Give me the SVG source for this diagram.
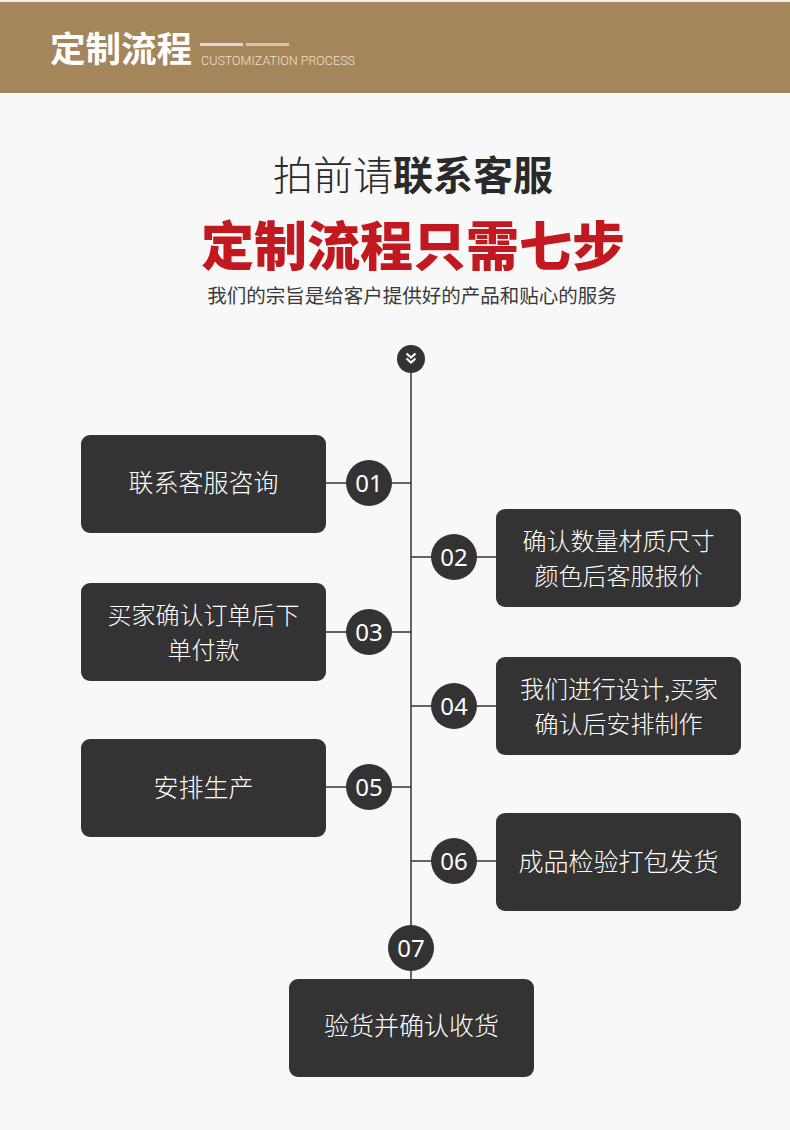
<svg xmlns="http://www.w3.org/2000/svg" width="790" height="1130" viewBox="0 0 790 1130">
<style>
.box{fill:#333333}
.circ{fill:#333333}
.conn{stroke:#333333;stroke-width:1.5;fill:none}
.bt{font-family:"Noto Sans CJK SC","Noto Sans",sans-serif;font-size:25px;font-weight:300;fill:#ffffff;text-anchor:middle}
.bt2{font-family:"Noto Sans CJK SC","Noto Sans",sans-serif;font-size:24px;font-weight:300;fill:#ffffff;text-anchor:middle}
.num{font-family:"Noto Sans","Noto Sans CJK SC",sans-serif;font-size:24px;fill:#ffffff;text-anchor:middle}
</style>
<rect x="0" y="0" width="790" height="1130" fill="#f8f8f8"/>
<rect x="0" y="0" width="790" height="2" fill="#eeeeee"/>
<rect x="0" y="2" width="790" height="91" fill="#a5855a"/>
<text x="50" y="62" font-family="Noto Sans CJK SC,sans-serif" font-size="35.5" font-weight="700" fill="#ffffff">定制流程</text>
<rect x="200" y="43" width="43" height="3" fill="#d9d9d9"/>
<rect x="246" y="43" width="43" height="3" fill="#d6c5ab"/>
<text x="201" y="65" font-family="Roboto,'Liberation Sans',sans-serif" font-size="12.5" font-weight="300" fill="#ece2d2" textLength="154" lengthAdjust="spacingAndGlyphs">CUSTOMIZATION PROCESS</text>

<text x="413" y="190" font-family="'Noto Sans CJK SC',sans-serif" font-size="40" fill="#2a2a2a" text-anchor="middle"><tspan font-weight="300">拍前请</tspan><tspan font-weight="700">联系客服</tspan></text>
<text x="413" y="266" font-family="'Noto Sans CJK SC',sans-serif" font-size="53" font-weight="900" fill="#c1191f" text-anchor="middle">定制流程只需七步</text>
<text x="412" y="303" font-family="'Noto Sans CJK SC',sans-serif" font-size="19.5" fill="#3a3a3a" text-anchor="middle">我们的宗旨是给客户提供好的产品和贴心的服务</text>

<g id="connectors">
<line class="conn" x1="411" y1="373" x2="411" y2="979"/>
<line class="conn" x1="326" y1="483" x2="411" y2="483"/>
<line class="conn" x1="411" y1="557" x2="496" y2="557"/>
<line class="conn" x1="326" y1="632" x2="411" y2="632"/>
<line class="conn" x1="411" y1="706" x2="496" y2="706"/>
<line class="conn" x1="326" y1="787" x2="411" y2="787"/>
<line class="conn" x1="411" y1="861" x2="496" y2="861"/>
</g>

<g id="start">
<circle class="circ" cx="411" cy="359" r="14"/>
<polyline points="406.5,353.5 411,357.5 415.5,353.5" fill="none" stroke="#ffffff" stroke-width="2.2"/>
<polyline points="406.5,358.5 411,362.5 415.5,358.5" fill="none" stroke="#ffffff" stroke-width="2.2"/>
</g>

<g id="step01">
<rect class="box" x="81" y="435" width="245" height="98" rx="9"/>
<text class="bt" x="203.5" y="492">联系客服咨询</text>
<circle class="circ" cx="369" cy="483" r="23"/>
<text class="num" x="369" y="491.5">01</text>
</g>

<g id="step02">
<rect class="box" x="496" y="509" width="245" height="98" rx="9"/>
<text class="bt2" x="618.5" y="549.5">确认数量材质尺寸</text>
<text class="bt2" x="618.5" y="584.5">颜色后客服报价</text>
<circle class="circ" cx="454" cy="557" r="23"/>
<text class="num" x="454" y="565.5">02</text>
</g>

<g id="step03">
<rect class="box" x="81" y="583" width="245" height="98" rx="9"/>
<text class="bt2" x="203.5" y="623.5">买家确认订单后下</text>
<text class="bt2" x="203.5" y="658.5">单付款</text>
<circle class="circ" cx="369" cy="632" r="23"/>
<text class="num" x="369" y="640.5">03</text>
</g>

<g id="step04">
<rect class="box" x="496" y="657" width="245" height="98" rx="9"/>
<text class="bt2" x="619" y="697.5">我们进行设计,买家</text>
<text class="bt2" x="618.5" y="732.5">确认后安排制作</text>
<circle class="circ" cx="454" cy="706" r="23"/>
<text class="num" x="454" y="714.5">04</text>
</g>

<g id="step05">
<rect class="box" x="81" y="739" width="245" height="98" rx="9"/>
<text class="bt" x="203.5" y="797">安排生产</text>
<circle class="circ" cx="369" cy="787" r="23"/>
<text class="num" x="369" y="795.5">05</text>
</g>

<g id="step06">
<rect class="box" x="496" y="813" width="245" height="98" rx="9"/>
<text class="bt" x="618.5" y="871">成品检验打包发货</text>
<circle class="circ" cx="454" cy="861" r="23"/>
<text class="num" x="454" y="869.5">06</text>
</g>

<g id="step07">
<circle class="circ" cx="411" cy="948" r="23"/>
<text class="num" x="411" y="956.5">07</text>
<rect class="box" x="289" y="979" width="245" height="98" rx="9"/>
<text class="bt" x="411.5" y="1035">验货并确认收货</text>
</g>
</svg>
